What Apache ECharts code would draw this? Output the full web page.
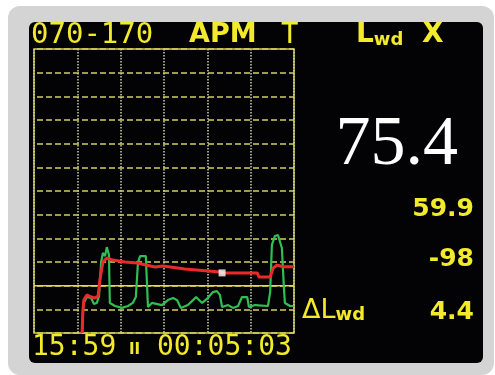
<!DOCTYPE html>
<html>
<head>
<meta charset="utf-8">
<script src="https://cdn.jsdelivr.net/npm/echarts@6/dist/echarts.min.js"></script>
<style>
  html, body { margin: 0; padding: 0; background: #ffffff; }
  #chart { width: 495px; height: 375px; }
</style>
</head>
<body>
<div id="chart"></div>
<script>
// Level trace (red) and short-term level (green), time in grid units
const redTime  = [11.1, 11.3, 11.5, 12.2, 13.2, 14.1, 14.8, 15.2, 15.9, 16.8, 18.2, 21.0, 23.8, 27.9, 29.8, 34.8, 42.9, 43.4, 48.7, 51.5, 51.9, 54.5, 55.2, 56.1, 57.5, 60.0];
const redLevel = [50, 59.7, 63.9, 66.1, 65.2, 64.8, 65.6, 72.4, 80.0, 81.7, 80.8, 80.0, 79.6, 77.9, 78.3, 77.0, 75.8, 75.4, 75.4, 75.4, 73.7, 73.7, 77.5, 78.7, 78.0, 78.0];

const greenTime  = [11.1, 11.3, 11.5, 12.2, 13.2, 13.8, 14.5, 15.0, 15.5, 15.9, 16.4, 16.8, 17.3, 17.5, 18.7, 20.3, 21.7, 22.8, 23.5, 24.0, 24.5, 25.8, 26.3, 27.2, 29.5, 30.9, 32.1, 33.0, 33.9, 35.5, 36.7, 37.4, 38.8, 39.9, 41.3, 42.2, 42.9, 43.4, 44.8, 45.9, 47.1, 48.0, 49.2, 49.6, 51.0, 54.0, 54.5, 54.9, 55.6, 56.3, 57.2, 57.7, 57.9, 59.1, 59.8];
const greenLevel = [50, 59.7, 62.7, 65.2, 64.8, 62.3, 62.7, 65.6, 80.0, 83.8, 82.5, 86.3, 83.0, 62.7, 61.4, 60.6, 61.4, 62.7, 65.2, 80.0, 82.5, 82.5, 61.0, 62.7, 61.8, 63.9, 64.8, 63.9, 60.6, 61.8, 63.9, 65.2, 62.7, 64.4, 67.3, 67.7, 66.1, 61.0, 61.8, 60.6, 61.4, 65.2, 65.2, 61.0, 61.8, 61.4, 67.3, 87.2, 91.0, 91.4, 85.9, 68.2, 62.7, 61.4, 61.4];

// Cursor position and the reference line
const cursor = [43.4, 75.4];
const rangeLow = 70;

// Axis ranges
const timeMin = 0, timeMax = 60, timeStep = 10;
const levelMin = 50, levelMax = 170, levelStep = 10;

// Display texts
const headerRange = '070-170';
const headerMode = 'APM';
const headerFlag = 'T';
const headerUnit = 'X';
const mainReading = '75.4';
const readings = ['59.9', '-98', '4.4'];
const clockText = '15:59';
const pauseText = 'II';
const elapsedText = '00:05:03';

const YEL = '#f2ea2a';
const MONO = '"DejaVu Sans Mono", monospace';
const SANS = '"DejaVu Sans", sans-serif';

const chart = echarts.init(document.getElementById('chart'), null, { renderer: 'canvas' });

const zip = (a, b) => a.map((v, i) => [v, b[i]]);

chart.setOption({
  backgroundColor: '#ffffff',
  animation: false,
  graphic: [
    { type: 'rect', z: -10, shape: { x: 8, y: 6, width: 486, height: 369, r: 12 }, style: { fill: '#d4d4d4' } },
    { type: 'rect', z: -9, shape: { x: 29, y: 22, width: 454, height: 341, r: 6 }, style: { fill: '#030305' } },
    // header line
    { type: 'text', z: 10, style: { x: 31, y: 35, text: headerRange, font: '29px ' + MONO, fill: YEL, verticalAlign: 'middle' } },
    { type: 'text', z: 10, style: { x: 189, y: 35, text: headerMode, font: 'bold 27px ' + SANS, fill: YEL, verticalAlign: 'middle' } },
    { type: 'text', z: 10, style: { x: 281, y: 35, text: headerFlag, font: '29px ' + MONO, fill: YEL, verticalAlign: 'middle' } },
    { type: 'text', z: 10, style: { x: 356, y: 35, text: '{a|L}{b|wd}', fill: YEL, verticalAlign: 'middle',
        rich: { a: { font: 'bold 28px ' + SANS, fill: YEL }, b: { font: 'bold 18px ' + SANS, fill: YEL, verticalAlign: 'bottom' } } } },
    { type: 'text', z: 10, style: { x: 422, y: 35, text: headerUnit, font: 'bold 28px ' + SANS, fill: YEL, verticalAlign: 'middle' } },
    // right readouts
    { type: 'text', z: 10, style: { x: 458, y: 146, text: mainReading, font: '70px "Liberation Serif", serif', fill: '#ffffff', align: 'right', verticalAlign: 'middle' } },
    { type: 'text', z: 10, style: { x: 474, y: 209, text: readings[0], font: 'bold 25px ' + SANS, fill: YEL, align: 'right', verticalAlign: 'middle' } },
    { type: 'text', z: 10, style: { x: 474, y: 259, text: readings[1], font: 'bold 25px ' + SANS, fill: YEL, align: 'right', verticalAlign: 'middle' } },
    { type: 'text', z: 10, style: { x: 474, y: 312, text: readings[2], font: 'bold 25px ' + SANS, fill: YEL, align: 'right', verticalAlign: 'middle' } },
    { type: 'text', z: 10, style: { x: 302, y: 311, text: '{a|ΔL}{b|wd}', fill: YEL, verticalAlign: 'middle',
        rich: { a: { font: '27px ' + SANS, fill: YEL }, b: { font: 'bold 18px ' + SANS, fill: YEL, verticalAlign: 'bottom' } } } },
    // footer clock
    { type: 'text', z: 10, style: { x: 32, y: 348, text: clockText, font: '28px ' + MONO, fill: YEL, verticalAlign: 'middle' } },
    { type: 'text', z: 10, style: { x: 129, y: 350, text: pauseText, font: 'bold 15px ' + SANS, fill: YEL, verticalAlign: 'middle' } },
    { type: 'text', z: 10, style: { x: 157, y: 348, text: elapsedText, font: '28px ' + MONO, fill: YEL, verticalAlign: 'middle' } }
  ],
  grid: {
    left: 34, top: 49, width: 260, height: 284,
    show: true, borderColor: '#d6d24a', borderWidth: 1.5, backgroundColor: 'transparent'
  },
  xAxis: {
    type: 'value', min: timeMin, max: timeMax, interval: timeStep,
    axisLine: { show: false }, axisTick: { show: false }, axisLabel: { show: false },
    splitLine: { show: true, lineStyle: { color: '#cfcfa8', width: 1.5, type: [1.5, 1.5] } }
  },
  yAxis: {
    type: 'value', min: levelMin, max: levelMax, interval: levelStep,
    axisLine: { show: false }, axisTick: { show: false }, axisLabel: { show: false },
    splitLine: { show: true, lineStyle: { color: '#d2d060', width: 1.5, type: [6, 3], dashOffset: -3 } }
  },
  series: [
    {
      type: 'line', symbol: 'none', silent: true, z: 3,
      data: [[timeMin, rangeLow], [timeMax, rangeLow]],
      lineStyle: { color: '#e2dc3c', width: 1.5 }
    },
    {
      type: 'line', symbol: 'none', z: 4,
      data: zip(greenTime, greenLevel),
      lineStyle: { color: '#2fbf52', width: 2.2 }
    },
    {
      type: 'line', symbol: 'none', z: 5,
      data: zip(redTime, redLevel),
      lineStyle: { color: '#ea2a2a', width: 3 }
    },
    {
      type: 'scatter', z: 6, symbol: 'rect', symbolSize: 7,
      data: [cursor],
      itemStyle: { color: '#ffffff' }
    }
  ]
});
</script>
</body>
</html>
